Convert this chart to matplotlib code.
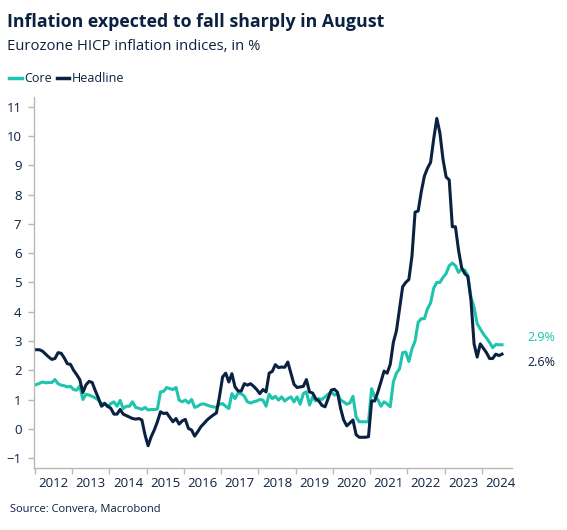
import numpy as np
import pandas as pd
import matplotlib
matplotlib.use("Agg")
import matplotlib.pyplot as plt

# monthly readings, Jan 2012 - Jul 2024
headline = [
    2.7, 2.7, 2.65, 2.55, 2.45, 2.37, 2.4, 2.6, 2.58, 2.42, 2.22, 2.2,      # 2012
    2.0, 1.85, 1.68, 1.24, 1.5, 1.62, 1.58, 1.3, 1.05, 0.77, 0.86, 0.77,    # 2013
    0.7, 0.5, 0.5, 0.66, 0.5, 0.45, 0.4, 0.35, 0.33, 0.35, 0.3, -0.2,       # 2014
    -0.58, -0.27, -0.04, 0.24, 0.58, 0.52, 0.54, 0.39, 0.24, 0.35, 0.16, 0.27,  # 2015
    0.32, 0.01, -0.04, -0.25, -0.1, 0.07, 0.18, 0.3, 0.39, 0.47, 0.54, 1.1,  # 2016
    1.77, 1.9, 1.6, 1.88, 1.43, 1.29, 1.29, 1.54, 1.49, 1.54, 1.45, 1.34,   # 2017
    1.2, 1.34, 1.26, 1.9, 1.96, 2.19, 2.09, 2.11, 2.1, 2.28, 1.9, 1.52,     # 2018
    1.41, 1.43, 1.45, 1.68, 1.26, 1.22, 1.03, 0.95, 0.8, 0.75, 1.03, 1.32,  # 2019
    1.35, 1.25, 0.7, 0.3, 0.1, 0.2, 0.3, -0.2, -0.29, -0.29, -0.29, -0.27,  # 2020
    0.95, 0.95, 1.25, 1.6, 1.97, 1.9, 2.2, 2.95, 3.35, 4.1, 4.85, 5.0,      # 2021
    5.1, 5.9, 7.4, 7.44, 8.1, 8.63, 8.9, 9.1, 9.9, 10.6, 10.1, 9.2,         # 2022
    8.6, 8.5, 6.9, 6.9, 6.1, 5.5, 5.3, 5.2, 4.4, 2.9, 2.45, 2.9,            # 2023
    2.75, 2.6, 2.4, 2.4, 2.55, 2.5, 2.55,                                   # 2024
]
core = [
    1.51, 1.55, 1.6, 1.57, 1.58, 1.58, 1.68, 1.54, 1.49, 1.47, 1.43, 1.45,  # 2012
    1.34, 1.32, 1.46, 1.0, 1.18, 1.15, 1.11, 1.05, 0.98, 0.84, 0.88, 0.75,  # 2013
    0.86, 0.92, 0.77, 0.97, 0.69, 0.77, 0.77, 0.92, 0.73, 0.7, 0.66, 0.73,  # 2014
    0.64, 0.66, 0.66, 0.67, 1.26, 1.28, 1.41, 1.37, 1.34, 1.41, 0.98, 0.92, # 2015
    0.98, 0.88, 1.0, 0.73, 0.77, 0.84, 0.85, 0.81, 0.77, 0.75, 0.73, 0.84,  # 2016
    0.86, 0.77, 0.69, 1.2, 1.03, 1.22, 1.2, 1.11, 0.92, 0.88, 0.92, 0.95,   # 2017
    1.0, 0.98, 0.77, 1.18, 1.03, 1.11, 0.98, 1.09, 0.95, 1.03, 1.09, 0.92,  # 2018
    1.09, 0.84, 1.2, 1.26, 0.81, 1.09, 0.95, 1.03, 1.0, 1.09, 1.18, 1.26,   # 2019
    1.15, 1.2, 0.98, 0.92, 0.84, 0.88, 1.11, 0.4, 0.24, 0.24, 0.24, 0.24,   # 2020
    1.37, 1.09, 1.0, 0.77, 0.92, 0.85, 0.75, 1.6, 1.9, 2.05, 2.6, 2.62,     # 2021
    2.3, 2.73, 3.0, 3.64, 3.76, 3.76, 4.1, 4.3, 4.8, 5.0, 5.0, 5.17,        # 2022
    5.3, 5.57, 5.66, 5.57, 5.34, 5.46, 5.42, 5.23, 4.49, 4.15, 3.59, 3.41,  # 2023
    3.24, 3.1, 2.95, 2.77, 2.88, 2.87, 2.87,                                # 2024
]
years = list(range(2012, 2025))
y_ticks = list(range(-1, 12))
last_labels = ["2.9%", "2.6%"]

navy = "#0b2141"
teal = "#1ec4ab"
grey = "#b8b8b8"

plt.rcParams["font.family"] = ["Open Sans", "DejaVu Sans"]

dates = pd.date_range("2012-01-01", periods=len(headline), freq="MS")
x = dates.year + (dates.month - 0.5) / 12

fig = plt.figure(figsize=(5.67, 5.30), dpi=100)
ax = fig.add_axes([0.060, 0.1164, 0.843, 0.701])

ax.plot(x, core, color=teal, lw=2.2, solid_joinstyle="round")
ax.plot(x, headline, color=navy, lw=2.2, solid_joinstyle="round")

ax.set_xlim(2011.98, 2024.81)
ax.set_ylim(-1.35, 11.34)

# year ticks at boundaries, labels in between
ax.set_xticks(years)
ax.set_xticklabels([])
ax.set_xticks([yr + 0.5 for yr in years], minor=True)
ax.set_xticklabels([str(yr) for yr in years], minor=True)
ax.tick_params(axis="x", which="major", length=4, width=1, color=grey, direction="out")
ax.tick_params(axis="x", which="minor", length=0, pad=6, labelsize=9.5, labelcolor=navy)

ax.set_yticks(y_ticks)
ax.tick_params(axis="y", length=4, width=1, color=grey, labelsize=9.5, labelcolor=navy, pad=5)

for s in ["top", "right"]:
    ax.spines[s].set_visible(False)
for s in ["left", "bottom"]:
    ax.spines[s].set_color(grey)
    ax.spines[s].set_linewidth(1)

# end labels
ax.annotate(last_labels[0], xy=(x[-1], core[-1]), xytext=(18, 5.5), textcoords="offset points",
            color=teal, fontsize=9, va="center", ha="left")
ax.annotate(last_labels[1], xy=(x[-1], headline[-1]), xytext=(18, -6.2), textcoords="offset points",
            color=navy, fontsize=9, va="center", ha="left")

fig.text(0.013, 0.958, "Inflation expected to fall sharply in August", fontsize=12.8,
         fontweight="bold", color=navy, va="center", ha="left")
fig.text(0.013, 0.912, "Eurozone HICP inflation indices, in %", fontsize=10.7,
         color=navy, va="center", ha="left")

# legend
fig.lines.append(plt.Line2D([0.016, 0.039], [0.853, 0.853], color=teal, lw=2.5, transform=fig.transFigure))
fig.text(0.043, 0.851, "Core", fontsize=9, color=navy, va="center", ha="left")
fig.lines.append(plt.Line2D([0.101, 0.122], [0.853, 0.853], color=navy, lw=2.5, transform=fig.transFigure))
fig.text(0.126, 0.851, "Headline", fontsize=9, color=navy, va="center", ha="left")

fig.text(0.018, 0.038, "Source: Convera, Macrobond", fontsize=8, color=navy, va="center", ha="left")

fig.savefig("out.png", dpi=100)
